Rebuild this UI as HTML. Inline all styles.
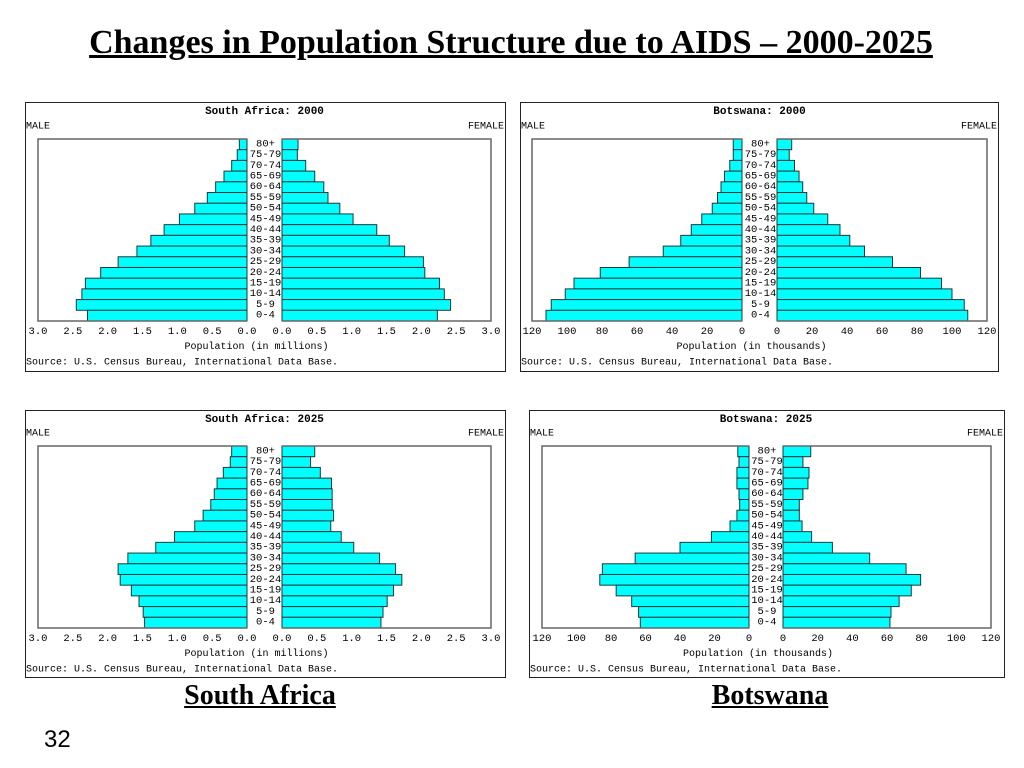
<!DOCTYPE html>
<html><head><meta charset="utf-8"><style>
html,body{margin:0;padding:0;background:#fff;}
body{width:1024px;height:768px;position:relative;overflow:hidden;font-family:"Liberation Serif",serif;}
.h{position:absolute;font-weight:bold;text-decoration:underline;color:#000;white-space:nowrap;}
svg text{font-family:"Liberation Mono",monospace;fill:#000;}
</style></head><body>
<div class="h" style="left:0;width:1022px;text-align:center;top:24px;font-size:34px;">Changes in Population Structure due to AIDS – 2000-2025</div>
<div class="h" style="left:160px;width:200px;text-align:center;top:680px;font-size:28px;">South Africa</div>
<div class="h" style="left:670px;width:200px;text-align:center;top:680px;font-size:28px;">Botswana</div>
<div style="position:absolute;left:44px;top:726px;font-size:24px;font-family:'Liberation Sans',sans-serif;">32</div>
<svg id="s" width="1024" height="768" style="position:absolute;left:0;top:0"></svg>
<script>
const ages=["80+","75-79","70-74","65-69","60-64","55-59","50-54","45-49","40-44","35-39","30-34","25-29","20-24","15-19","10-14","5-9","0-4"];
const saTicks=["0.0","0.5","1.0","1.5","2.0","2.5","3.0"];
const bwTicks=["0","20","40","60","80","100","120"];
const sa2000Male=[0.11,0.14,0.22,0.33,0.45,0.57,0.75,0.97,1.19,1.38,1.58,1.85,2.10,2.32,2.37,2.45,2.29];
const sa2000Female=[0.23,0.22,0.34,0.47,0.60,0.66,0.83,1.02,1.36,1.54,1.76,2.03,2.05,2.26,2.33,2.42,2.23];
const bw2000Male=[5,5,7,10,12,14,17,23,29,35,45,64.5,81,96,101,109,112];
const bw2000Female=[8.4,7,10,12.6,14.7,17,21,29,36,41.6,50,66,82,94,100,107,109];
const sa2025Male=[0.22,0.24,0.34,0.43,0.47,0.52,0.63,0.75,1.04,1.31,1.71,1.85,1.82,1.66,1.55,1.49,1.47];
const sa2025Female=[0.47,0.41,0.55,0.71,0.72,0.72,0.74,0.70,0.85,1.03,1.40,1.63,1.72,1.60,1.51,1.45,1.42];
const bw2025Male=[6.5,5.8,7,7,5.8,5.4,7,11,21.8,40,66,85,86.5,77,68,64,63];
const bw2025Female=[16,11.5,15,14.4,11.5,9.4,9.4,11,16.5,28.5,50,71,79.4,74,67,62.3,61.7];

const svg=document.getElementById('s');
const NS="http://www.w3.org/2000/svg";
function mk(tag,at,parent){const e=document.createElementNS(NS,tag);for(const k in at)e.setAttribute(k,at[k]);(parent||svg).appendChild(e);return e;}
function txt(x,y,s,anchor,size,bold,parent){const t=mk('text',{x:x,y:y,'text-anchor':anchor,'dominant-baseline':'central','font-size':size},parent);if(bold)t.setAttribute('font-weight','bold');t.textContent=s;return t;}

const panels=[
 {name:"south-africa-2000",title:"South Africa: 2000",bx:25,by:102,bw:480,bh:269,L:38,MZ:247,FZ:282,R:491,T:139,B:321,max:3,ticks:saTicks,unit:"Population (in millions)",male:sa2000Male,female:sa2000Female,dy:0},
 {name:"botswana-2000",title:"Botswana: 2000",bx:520,by:102,bw:478,bh:269,L:532,MZ:742,FZ:777,R:987,T:139,B:321,max:120,ticks:bwTicks,unit:"Population (in thousands)",male:bw2000Male,female:bw2000Female,dy:0},
 {name:"south-africa-2025",title:"South Africa: 2025",bx:25,by:410,bw:480,bh:267,L:38,MZ:247,FZ:282,R:491,T:446,B:628,max:3,ticks:saTicks,unit:"Population (in millions)",male:sa2025Male,female:sa2025Female,dy:-3},
 {name:"botswana-2025",title:"Botswana: 2025",bx:529,by:410,bw:475,bh:267,L:542,MZ:749,FZ:783,R:991,T:446,B:628,max:120,ticks:bwTicks,unit:"Population (in thousands)",male:bw2025Male,female:bw2025Female,dy:-3}
];
panels.forEach(p=>{
 const g=mk('g',{});
 
 
 mk('rect',{x:p.bx+0.5,y:p.by+0.5,width:p.bw,height:p.bh,fill:'#fff',stroke:'#222','stroke-width':1},g);
 const tt=txt((p.MZ+p.FZ)/2,p.by+10,p.title,'middle',11,true,g);
 
 
 const ml=txt(p.bx+1,p.by+25+(p.dy<0?-1:0),"MALE",'start',10,false,g);
 
 
 const fl=txt(p.bx+p.bw-1,p.by+25+(p.dy<0?-1:0),"FEMALE",'end',10,false,g);
 
 
 const xm=v=>p.MZ-(v/p.max)*(p.MZ-p.L);
 const xf=v=>p.FZ+(v/p.max)*(p.R-p.FZ);
 const bh=(p.B-p.T)/ages.length;
 const yb=i=>p.T+i*bh;
 ages.forEach((a,i)=>{
  const m=mk('rect',{x:xm(p.male[i]),y:yb(i),width:p.MZ-xm(p.male[i]),height:bh,fill:'#00ffff',stroke:'#1a3a3a','stroke-width':1},g);
  
  
  const f=mk('rect',{x:p.FZ,y:yb(i),width:xf(p.female[i])-p.FZ,height:bh,fill:'#00ffff',stroke:'#1a3a3a','stroke-width':1},g);
  
  
  const l=txt((p.MZ+p.FZ)/2+1,yb(i)+bh/2,a,'middle',10.5,false,g);
  
  
 });
 mk('path',{d:`M${p.MZ},${p.T}H${p.L}V${p.B}H${p.MZ}M${p.FZ},${p.T}H${p.R}V${p.B}H${p.FZ}`,fill:'none',stroke:'#666','stroke-width':1.5},g);
 const ty=p.B+11;
 p.ticks.forEach((t,i)=>{
  const v=i*p.max/(p.ticks.length-1);
  const a=txt(xm(v),ty,t,'middle',10.5,false,g);
  
  
  const b=txt(xf(v),ty,t,'middle',10.5,false,g);
  
  
 });
 const ax=txt((p.MZ+p.FZ)/2-8,p.B+26.5,p.unit,'middle',10,false,g);
 
 
 const src=txt(p.bx+1,p.B+42,"Source: U.S. Census Bureau, International Data Base.",'start',10,false,g);
 
 
});
</script>
</body></html>
